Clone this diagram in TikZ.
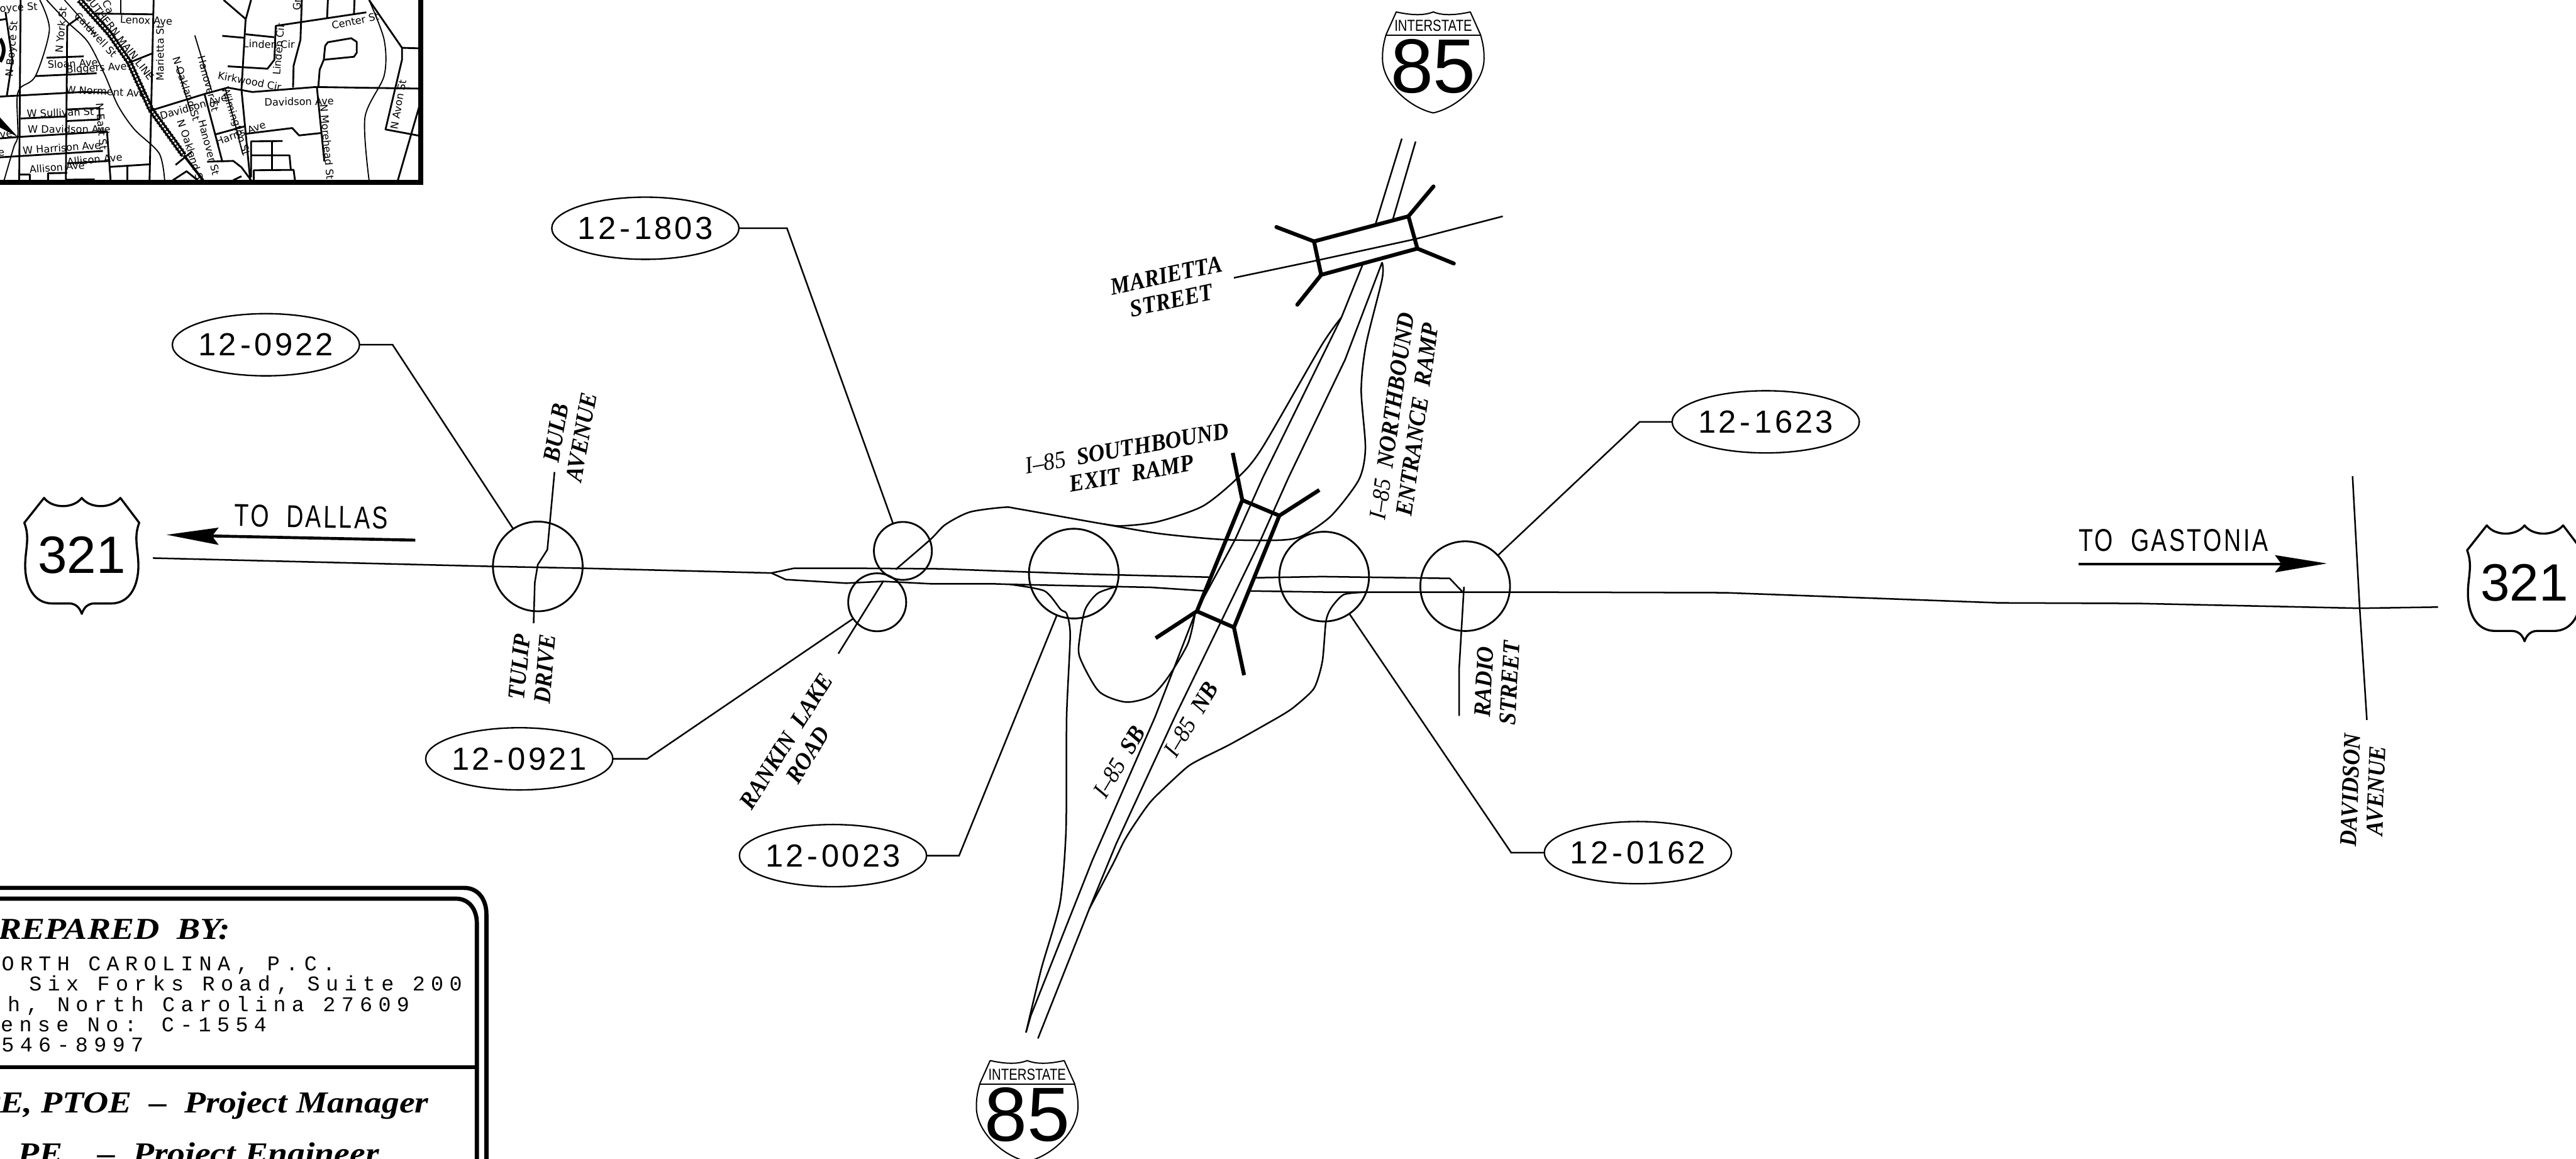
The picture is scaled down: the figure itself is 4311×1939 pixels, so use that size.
\documentclass[tikz,border=0pt]{standalone}
\usepackage{fontspec}
\usetikzlibrary{shapes.geometric}
\setmainfont{Liberation Serif}
\newfontfamily\streetfont[FakeStretch=0.92]{Liberation Serif}
\newfontfamily\titlefont[FakeStretch=1.15]{Liberation Serif}
\newfontfamily\ovalfont[LetterSpace=8]{Liberation Sans}
\newfontfamily\dirfont[FakeStretch=0.75,LetterSpace=7]{Liberation Sans}
\newfontfamily\shieldfont{Liberation Sans}
\newfontfamily\ifont[FakeStretch=0.8]{Liberation Sans}
\newfontfamily\addrfont[LetterSpace=28]{Liberation Mono}
\newfontfamily\mapfont{DejaVu Sans}
\tikzset{
  road/.style={line width=0.75pt,line join=round},
  conn/.style={line width=0.75pt,line join=miter},
  thickbridge/.style={line width=1.85pt,line join=miter},
  wing/.style={line width=1.85pt,line cap=round},
  hub/.style={circle,draw,line width=0.85pt,inner sep=0pt,outer sep=0pt},
  bigH/.style={hub,minimum size=1.5cm},
  smallH/.style={hub,minimum size=0.97cm},
  oval/.style={ellipse,draw,line width=0.7pt,inner sep=0pt,outer sep=0pt,minimum width=3.13cm,minimum height=1.04cm},
  street/.style={font=\streetfont\fontsize{11.5pt}{12.2pt}\selectfont\bfseries\itshape,align=center,inner sep=0pt},
  dirtext/.style={font=\dirfont\fontsize{15pt}{16pt}\selectfont,inner sep=0pt},
  maproad/.style={line width=0.85pt,line join=round},
  mapthin/.style={line width=0.55pt,line join=round},
  maptext/.style={font=\mapfont\fontsize{4.85pt}{5pt}\selectfont,inner sep=0pt},
  frameline/.style={line width=2pt,line join=miter},
  addr/.style={font=\addrfont\fontsize{10pt}{11pt}\selectfont,inner sep=0pt,anchor=base east},
  titletext/.style={font=\titlefont\fontsize{14.5pt}{16pt}\selectfont\bfseries\itshape,inner sep=0pt,anchor=base east},
}
\newcommand{\ovaltext}[2]{\raisebox{-0.185cm}[0pt][0pt]{\makebox[0pt][c]{\ovalfont\fontsize{15.2pt}{16pt}\selectfont #1\kern1.8pt-\kern1.8pt#2}}}
\newcommand{\interstate}[3]{%
  \begin{scope}[shift={(#2,#3)}]
    \draw[line width=0.6pt,line join=round] (-62,0) .. controls (-35,6) and (-15,6) .. (0,0) .. controls (15,6) and (35,6) .. (62,0) -- (79,38)
      .. controls (84,55) and (85,65) .. (85,78) .. controls (85,120) and (40,160) .. (0,169)
      .. controls (-40,160) and (-85,120) .. (-85,78) .. controls (-85,65) and (-84,55) .. (-79,38) -- cycle;
    \draw[line width=0.6pt] (-79,39) -- (79,39);
    \node[inner sep=0pt,font=\ifont\fontsize{7.6pt}{8pt}\selectfont] (#1i) at (0,23) {INTERSTATE};
    \node[inner sep=0pt,font=\shieldfont\fontsize{36.5pt}{37pt}\selectfont] (#1n) at (0,91) {85};
  \end{scope}}
\newcommand{\usshield}[3]{%
  \begin{scope}[shift={(#2,780+#3)},xscale=0.7018,yscale=0.3333]
    \draw[line width=1pt,line join=round] (105,160) .. controls (125,215) and (175,215) .. (195,160)
      .. controls (215,215) and (265,215) .. (287,160) -- (332,285)
      .. controls (318,360) and (330,420) .. (330,500) .. controls (330,600) and (310,690) .. (265,690)
      -- (225,690) .. controls (210,690) and (200,710) .. (195,742) .. controls (190,710) and (180,690) .. (165,690)
      -- (125,690) .. controls (80,690) and (60,600) .. (60,500) .. controls (60,420) and (72,360) .. (58,285) -- cycle;
    \node[inner sep=0pt,font=\shieldfont\fontsize{25pt}{26pt}\selectfont] (#1) at (195,447) {321};
  \end{scope}}
\begin{document}
\begin{tikzpicture}[x=0.01cm,y=-0.01cm]
\useasboundingbox (0,0) rectangle (4311,1939);
\clip (0,0) rectangle (4311,1939);
% ---------- inset map (coordinates of the enlarged crop)
\begin{scope}[xscale=0.4592,yscale=0.3333]
  \draw[maproad] (75,0) -- (70,905);
  \draw[maproad] (20,60) -- (45,300) -- (25,480);
  \draw[maproad] (0,100) -- (25,95);
  \draw[mapthin] plot[smooth,tension=.5] coordinates {(145,0) (180,150) (130,380) (75,440) (62,500) (65,680) (50,740) (15,905)};
  \draw[maproad] (290,85) -- (245,130) -- (240,905);
  \draw[maproad] (170,290) -- (305,283);
  \draw[maproad] (130,382) -- (352,368);
  \draw[maproad] (0,485) -- (300,462) -- (395,465);
  \draw[maproad] (75,595) -- (240,585);
  \draw[maproad] (240,550) -- (362,542) -- (362,600) -- (240,608);
  \draw[maproad] (0,695) -- (65,688) -- (390,660) -- (403,905);
  \draw[maproad] (0,790) -- (375,758);
  \draw[maproad] (245,820) -- (400,808);
  \draw[maproad] (400,838) -- (548,825);
  \draw[maproad] (465,838) -- (465,905);
  \draw[maproad] (175,905) -- (175,870) -- (245,868);
  \draw[maproad] (70,877) -- (108,877) -- (108,905);
  \draw[line width=1.3pt] (240,905) -- (345,903);
  \fill (0,590) -- (65,688) -- (0,640) -- cycle;
  \draw[line width=1.8pt] (0,195) .. controls (18,230) and (18,270) .. (0,310);
  \draw[line width=2.7pt,line join=round] (290,0) -- (400,170) -- (470,310) -- (550,550) -- (670,780);
  \draw[line width=0.7pt,white,line join=round] (290,0) -- (400,170) -- (470,310) -- (550,550) -- (670,780);
  \draw[line width=3.3pt,dash pattern=on 0.5pt off 1.2pt] (290,0) -- (400,170) -- (470,310) -- (550,550) -- (670,780);
  \draw[line width=1.2pt] (670,780) -- (740,905);
  \draw[line width=0.5pt,line join=round] (235,0) -- (345,170);
  \draw[mapthin] plot[smooth,tension=.5] coordinates {(170,0) (245,110) (320,210) (380,370) (430,530) (490,650) (580,770) (600,905)};
  \draw[maproad] (560,0) -- (545,905);
  \draw[maproad] (345,68) -- (560,72);
  \draw[maproad] (440,0) -- (440,68);
  \draw[maproad] (470,315) -- (555,268);
  \draw[maproad] (550,555) -- (750,470) -- (830,440) -- (920,462) -- (1150,437) -- (1533,445);
  \draw[mapthin] (645,330) -- (695,560);
  \draw[mapthin] (710,178) -- (770,450);
  \draw[maproad] (745,470) -- (810,810);
  \draw[mapthin] (820,440) -- (860,640) -- (885,775);
  \draw[maproad] (915,0) -- (895,100) -- (880,450) -- (912,905);
  \draw[maproad] (815,0) -- (895,95);
  \draw[maproad] (810,180) -- (890,190);
  \draw[maproad] (895,172) -- (1000,187);
  \draw[maproad] (1335,62) -- (1005,130) -- (1000,300) -- (975,345) -- (830,333);
  \draw[maproad] (1100,0) -- (1095,200) -- (1070,330) -- (1068,440);
  \draw[maproad] (1195,0) -- (1192,90);
  \draw[maproad] (1292,0) -- (1290,70);
  \draw[maproad] (1160,440) -- (1165,350) -- (1180,300) -- (1290,285) -- (1300,265) -- (1300,210) -- (1280,192) -- (1195,212) -- (1185,230) -- (1180,300);
  \draw[maproad] (1155,440) -- (1182,810);
  \draw[maproad] (785,675) -- (890,635);
  \draw[maproad] (895,672) -- (1065,643) -- (1090,680) -- (1170,668);
  \draw[maproad] (1030,708) -- (915,710) -- (915,890);
  \draw[maproad] (992,708) -- (992,850);
  \draw[maproad] (915,780) -- (1055,780) -- (1060,853);
  \draw[maproad] (925,905) -- (925,855) -- (1070,853) -- (1075,905);
  \draw[maproad] (755,812) -- (850,808) -- (880,840) -- (915,905);
  \draw[maproad] (640,828) -- (700,760);
  \draw[maproad] (630,905) -- (680,860) -- (720,905);
  \draw[maproad] (850,905) -- (880,885);
  \draw[maproad] (1345,0) -- (1395,100) -- (1465,240) -- (1533,243);
  \draw[maproad] (1465,240) -- (1465,300) -- (1405,650) -- (1530,682);
  \draw[maproad] (1533,510) -- (1450,905);
  \draw[mapthin] plot[smooth,tension=.5] coordinates {(1345,0) (1400,200) (1400,380) (1330,590) (1345,905)};
  \draw[line width=2.3pt,line join=miter] (1533,0) -- (1533,915) -- (0,915);
  \node[maptext,rotate=3] (m1) at (68,42) {oyce St};
  \node[maptext,rotate=85] (m2) at (45,245) {N Boyce St};
  \node[maptext,rotate=85] (m3) at (222,150) {N York St};
  \node[maptext,rotate=-47] (m4) at (350,175) {Caldwell St};
  \node[maptext,rotate=-52,anchor=east] (m5) at (555,397) {SOUTHERN MAIN LINE};
  \node[maptext,rotate=-65] (m6) at (395,35) {Ca};
  \node[maptext,rotate=-2] (m7) at (533,103) {Lenox Ave};
  \node[maptext,rotate=90] (m8) at (583,265) {Marietta St};
  \node[maptext,rotate=3] (m9) at (265,318) {Sloan Ave};
  \node[maptext,rotate=3] (m10) at (352,345) {Biggers Ave};
  \node[maptext,rotate=-3] (m11) at (385,460) {W Norment Ave};
  \node[maptext,rotate=2] (m12) at (220,565) {W Sullivan St};
  \node[maptext] (m13) at (252,648) {W Davidson Ave};
  \node[maptext,rotate=4] (m14) at (225,742) {W Harrison Ave};
  \node[maptext,rotate=5] (m15) at (345,800) {Allison Ave};
  \node[maptext,rotate=5] (m16) at (208,840) {Allison Ave};
  \node[maptext,rotate=-72] (m17) at (680,445) {N Oakland St};
  \node[maptext,rotate=-72] (m18) at (697,760) {N Oakland St};
  \node[maptext,rotate=-75] (m19) at (760,420) {Hanover St};
  \node[maptext,rotate=-75] (m20) at (762,740) {Hanover St};
  \node[maptext,rotate=16] (m21) at (705,535) {Davidson Ave};
  \node[maptext,rotate=-11] (m22) at (910,408) {Kirkwood Cir};
  \node[maptext,rotate=-72] (m23) at (857,610) {Wilmington St};
  \node[maptext,rotate=-1] (m24) at (980,222) {Linden Cir};
  \node[maptext,rotate=85] (m25) at (1015,248) {Linden Cir};
  \node[maptext,rotate=12] (m26) at (1295,105) {Center St};
  \node[maptext,rotate=20] (m27) at (877,668) {Harris Ave};
  \node[maptext,rotate=1] (m28) at (1090,510) {Davidson Ave};
  \node[maptext,rotate=-85] (m29) at (1192,712) {N Morehead St};
  \node[maptext,rotate=80] (m30) at (1452,525) {N Avon St};
  \node[maptext,rotate=-85] (m31) at (370,635) {N East St};
  \node[maptext,rotate=5] (m32) at (22,675) {ve};
  \node[maptext,rotate=5] (m33) at (5,770) {e};
  \node[maptext,rotate=90] (m34) at (1082,22) {Gr};
\end{scope}
% ---------- main road US 321
\draw[road] (256,934) -- (825,948) -- (975,951) -- (1250,958) -- (1291,959) -- (1329,951) -- (1424,951) -- (1573,952) -- (1822,961) -- (2025,966);
\draw[road] (1291,959) -- (1315,970) -- (1416,976) -- (1478,973) -- (1557,977) -- (1660,977) -- (1690,978) -- (1926,983) -- (2017,989);
\draw[road] (2100,967) -- (2212,965) -- (2426,968) -- (2447,990);
\draw[road] (2089,989) -- (2220,991) -- (2550,991) -- (2887,992) -- (3346,1009) -- (3580,1010) -- (3949,1018) -- (4080,1016);
\draw[road] (3937,797) -- (3949,1018) -- (3961,1205);
% ---------- side streets
\draw[road] (928,790) -- (916,920) -- (900,945) -- (895,975) -- (893,1043);
\draw[road] (1478,973) -- (1403,1094);
\draw[road] (2450,982) -- (2442,1117) -- (2442,1198);
\draw[road] (2065,465) -- (2208,435) -- (2369,400) -- (2515,362);
% ---------- I-85
\draw[road] (2346,232) -- (2302,375);
\draw[road] (2369,237) -- (2331,367);
\draw[road] (2280,444) -- (2245,531) -- (2113,800) -- (2067,903) -- (2000,1027) -- (1933,1200) -- (1828,1440) -- (1725,1700) -- (1717,1728);
\draw[road] (2313,439) -- (2251,602) -- (2156,800) -- (2110,903) -- (1966,1200) -- (1868,1412) -- (1823,1521) -- (1737,1738);
% ---------- ramps
\draw[road] plot[smooth,tension=.45] coordinates {(2245,531) (2211,579) (2112,750) (2071,800) (2013,847) (1938,873) (1880,880) (1847,877) (1706,852) (1681,849) (1623,857) (1582,878) (1557,903) (1499,953)};
\draw[road] plot[smooth,tension=.45] coordinates {(2313,439) (2313,467) (2286,577) (2278,653) (2285,750) (2274,803) (2228,863) (2179,897) (2141,904) (2046,903) (1940,893) (1847,877)};
\draw[road] plot[smooth,tension=.4] coordinates {(1690,978) (1748,989) (1775,1020) (1785,1027) (1791,1063) (1785,1200) (1784,1389) (1774,1511) (1743,1620) (1717,1728)};
\draw[road] plot[smooth,tension=.45] coordinates {(1868,982) (1837,993) (1816,1020) (1807,1067) (1807,1100) (1839,1157) (1884,1175) (1926,1165) (1955,1133) (1988,1077) (2000,1027)};
\draw[road] plot[smooth,tension=.4] coordinates {(2287,991) (2249,995) (2228,1017) (2219,1040) (2213,1107) (2199,1152) (2166,1183) (2140,1200) (2060,1245) (2008,1271) (1984,1286) (1928,1339) (1899,1379) (1881,1408) (1863,1445) (1823,1521)};
% ---------- bridges
\draw[thickbridge] (2063,758) -- (2079,837) -- (2003,1023) -- (1934,1068);
\draw[thickbridge] (2079,837) -- (2141,863) -- (2065,1050) -- (2003,1023);
\draw[thickbridge] (2141,863) -- (2208,820);
\draw[thickbridge] (2065,1050) -- (2082,1130);
\draw[thickbridge] (2199,404) -- (2357,362) -- (2372,416) -- (2211,460) -- cycle;
\draw[wing] (2199,404) -- (2136,380);
\draw[wing] (2357,362) -- (2399,312);
\draw[wing] (2372,416) -- (2433,441);
\draw[wing] (2211,460) -- (2171,510);
% ---------- hubs, callouts
\node[bigH] (c0922) at (900,948) {};
\node[smallH] (c1803) at (1511,922) {};
\node[smallH] (c0921) at (1468,1008) {};
\node[bigH] (c0023) at (1797,960) {};
\node[bigH] (c0162) at (2216,965) {};
\node[bigH] (c1623) at (2452,981) {};
\node[oval] (o1803) at (1080,382) {\ovaltext{12}{1803}};
\node[oval] (o0922) at (445,577) {\ovaltext{12}{0922}};
\node[oval] (o0921) at (869,1270) {\ovaltext{12}{0921}};
\node[oval] (o0023) at (1394,1432) {\ovaltext{12}{0023}};
\node[oval] (o0162) at (2741,1427) {\ovaltext{12}{0162}};
\node[oval] (o1623) at (2955,706) {\ovaltext{12}{1623}};
\coordinate (e1803) at (1317,382);
\coordinate (e0922) at (657,577);
\coordinate (e0921) at (1083,1270);
\coordinate (e0023) at (1605,1432);
\coordinate (e0162) at (2529,1427);
\coordinate (e1623) at (2744,706);
\draw[conn] (o1803.east) -- (e1803) -- (c1803);
\draw[conn] (o0922.east) -- (e0922) -- (c0922);
\draw[conn] (o0921.east) -- (e0921) -- (c0921);
\draw[conn] (o0023.east) -- (e0023) -- (c0023);
\draw[conn] (o0162.west) -- (e0162) -- (c0162);
\draw[conn] (o1623.west) -- (e1623) -- (c1623);
% ---------- street labels
\node[street,rotate=80] (lBulb) at (952,728) {BULB\\AVENUE};
\node[street,rotate=85] (lTulip) at (891,1118) {TULIP\\DRIVE};
\node[street,rotate=58] (lRankin) at (1334,1252) {RANKIN\ \ LAKE\\ROAD};
\node[street,rotate=12] (lMarietta) at (1956,482) {MARIETTA\\STREET};
\node[street,rotate=10] (lSouth) at (1890,771) {{\mdseries I–85}\ \ SOUTHBOUND\\EXIT\ \ RAMP};
\node[street,rotate=82] (lNorth) at (2351,699) {{\mdseries I–85}\ \ NORTHBOUND\\ENTRANCE\ \ RAMP};
\node[street,rotate=87] (lRadio) at (2505,1142) {RADIO\\STREET};
\node[street,rotate=88] (lDavidson) at (3955,1323) {DAVIDSON\\AVENUE};
\node[street,rotate=59] (lSB) at (1873,1275) {{\mdseries I–85}\ \ SB};
\node[street,rotate=59] (lNB) at (1993,1204) {{\mdseries I–85}\ \ NB};
% ---------- direction arrows
\node[dirtext,rotate=-1] (tDallas) at (521,865) {TO\ \ DALLAS};
\node[dirtext] (tGastonia) at (3637,904) {TO\ \ GASTONIA};
\coordinate (dallasA) at (695,904);
\coordinate (dallasT) at (279,895);
\draw[line width=1.4pt] (dallasA) -- (355,897);
\fill (dallasT) -- (366,883) -- (355,897) -- (366,912) -- cycle;
\coordinate (gastA) at (3478,944);
\coordinate (gastT) at (3894,943);
\draw[line width=1.4pt] (gastA) -- (3818,944);
\fill (gastT) -- (3807,929) -- (3818,944) -- (3807,958) -- cycle;
% ---------- shields
\usshield{s321a}{0}{0}
\usshield{s321b}{4088}{46}
\interstate{s85a}{2398.6}{20}
\interstate{s85b}{1719}{1775}
% ---------- title box
\draw[frameline] (0,1486) -- (777,1486) .. controls (800,1486) and (814,1505) .. (814,1530) -- (814,1945);
\draw[frameline] (0,1504) -- (763,1504) .. controls (785,1504) and (798,1522) .. (798,1545) -- (798,1945);
\draw[frameline] (0,1786) -- (798,1786);
\node[titletext] (tPrepared) at (386,1572) {REPARED\ \ BY:};
\node[addr] (a1) at (562,1625) {NORTH CAROLINA, P.C.};
\node[addr] (a2) at (774,1658) {Six Forks Road, Suite 200};
\node[addr] (a3) at (686,1693) {h, North Carolina 27609};
\node[addr] (a4) at (447,1727) {ense No: C-1554};
\node[addr] (a5) at (241,1760) {546-8997};
\node[titletext] (tPM) at (718,1862) {PE, PTOE\ \ –\ \ Project Manager};
\node[titletext] (tPE) at (635,1948) {PE\ \ \ \ –\ \ Project Engineer};
\end{tikzpicture}
\end{document}
